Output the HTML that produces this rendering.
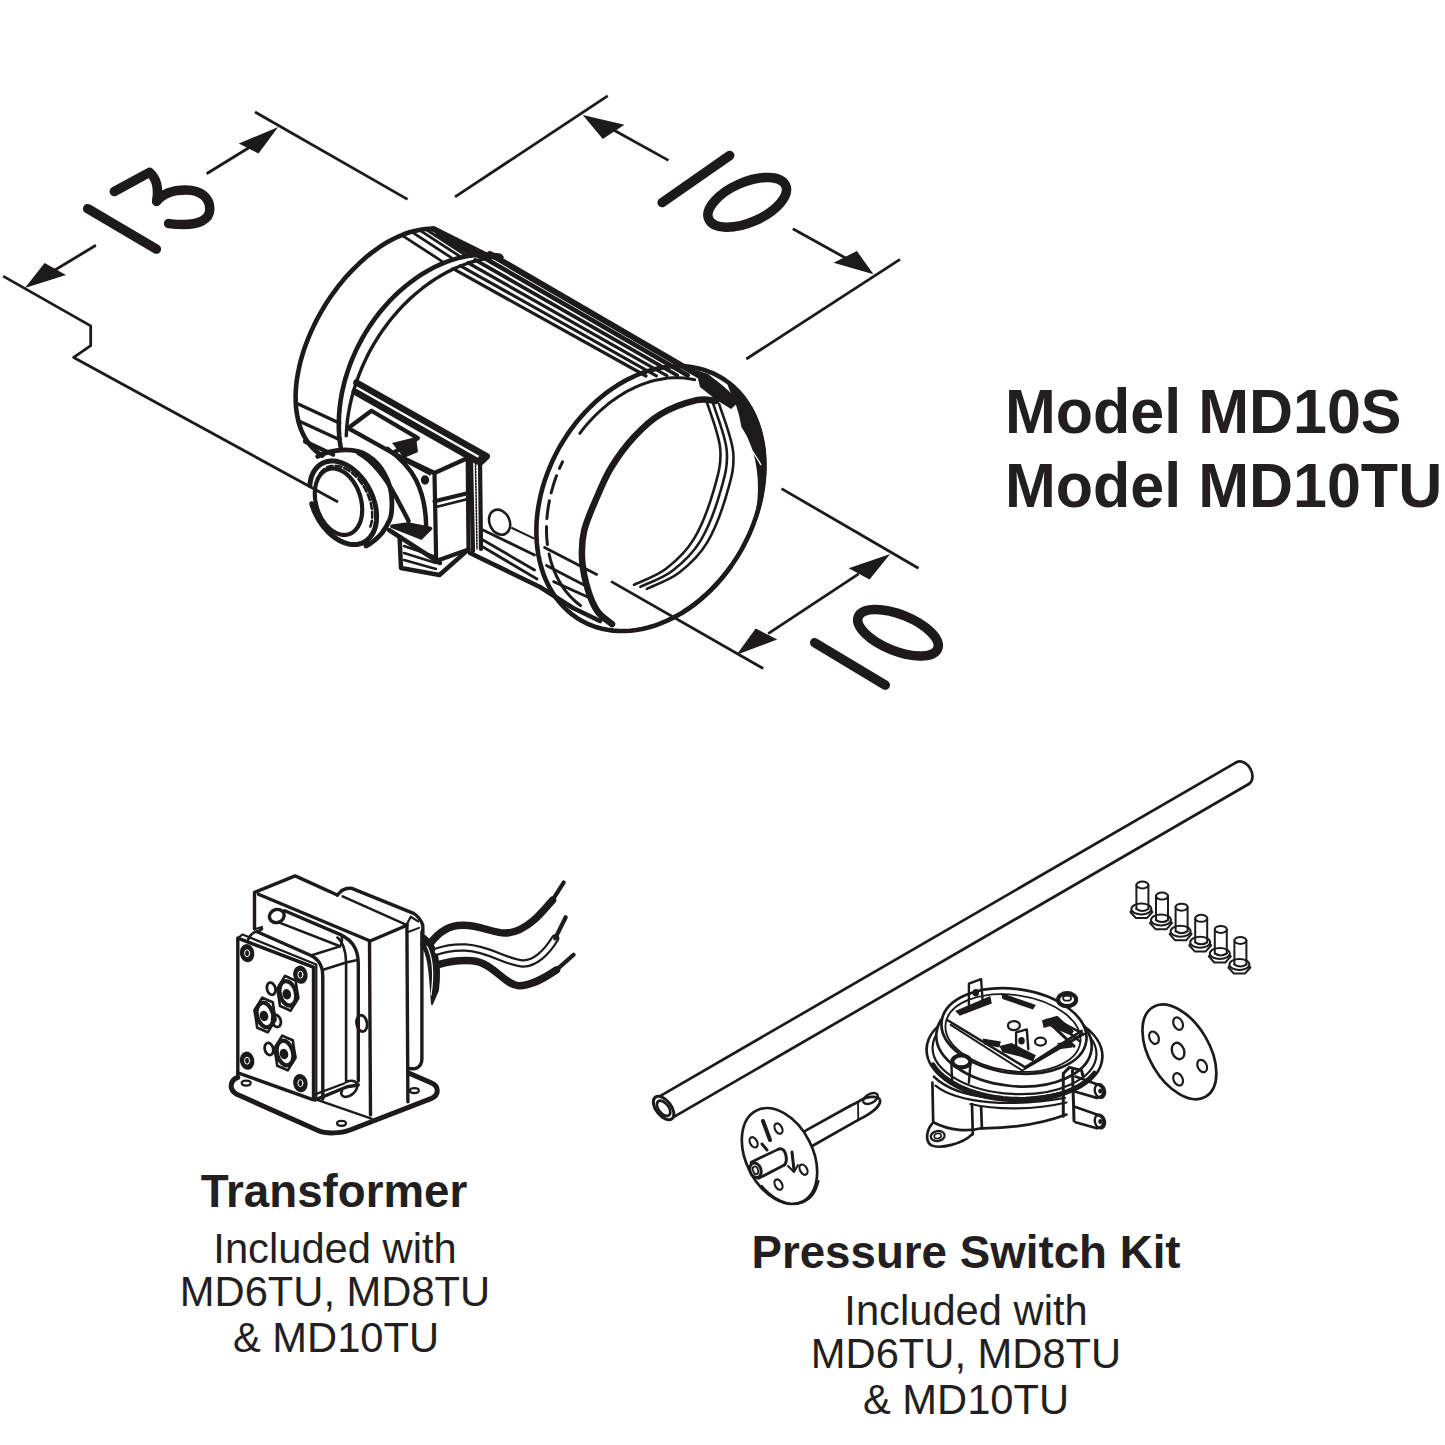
<!DOCTYPE html>
<html><head><meta charset="utf-8">
<style>
html,body{margin:0;padding:0;background:#fff;width:1445px;height:1445px;overflow:hidden}
.t{position:absolute;white-space:nowrap;font-family:"Liberation Sans",sans-serif;color:#231f20;line-height:1}
.b{font-weight:bold}
.c{width:1000px;text-align:center}
svg{position:absolute;left:0;top:0}
</style></head><body>
<svg width="1445" height="1445" viewBox="0 0 1445 1445" fill="none" stroke="#1e1a1b" stroke-linecap="round" stroke-linejoin="round">
<path d="M3.1,276.1 L90.7,325.9 L90.7,345.6 L73.7,357.4 L338.0,502.0" stroke-width="2.80" fill="none" stroke-linecap="butt"/>
<path d="M95.9,245.3 L50.0,273.0" stroke-width="2.80" fill="none" stroke-linecap="butt"/>
<path d="M24.9,287.9 L44.6,263.0 L66.0,275.0Z" fill="#1e1a1b" stroke="none"/>
<path d="M255.0,112.0 L407.6,199.4" stroke-width="2.80" fill="none" stroke-linecap="butt"/>
<path d="M206.6,173.7 L250.0,147.0" stroke-width="2.80" fill="none" stroke-linecap="butt"/>
<path d="M278.2,127.0 L238.8,143.6 L258.5,153.6Z" fill="#1e1a1b" stroke="none"/>
<path d="M87.7,208.7 L156.4,249.1" stroke-width="9.50" fill="none" />
<path d="M114.3,191.5 L149.5,172.3 C156,178 159,188 156.6,201.5 C163,193 172,190 186,190 C201,190 210,198 209.8,209.5 C209.5,220 198,224.5 184,224.5 C177,224.5 172,224 168.6,223.6" stroke-width="9.50" fill="none" />
<path d="M607.7,95.9 L455.0,196.9" stroke-width="2.80" fill="none" stroke-linecap="butt"/>
<path d="M668.5,160.4 L610.0,128.0" stroke-width="2.80" fill="none" stroke-linecap="butt"/>
<path d="M582.8,114.9 L624.4,124.8 L602.8,139.1Z" fill="#1e1a1b" stroke="none"/>
<path d="M662.1,202.6 L729.7,155.5" stroke-width="9.50" fill="none" />
<ellipse cx="747.2" cy="202.3" rx="42" ry="20" transform="rotate(-23.7 747.2 202.3)" stroke-width="9.50" fill="none"/>
<path d="M792.8,228.8 L860.0,266.0" stroke-width="2.80" fill="none" stroke-linecap="butt"/>
<path d="M873.5,274.3 L833.6,262.7 L856.9,251.1Z" fill="#1e1a1b" stroke="none"/>
<path d="M900.0,259.4 L746.3,359.0" stroke-width="2.80" fill="none" stroke-linecap="butt"/>
<path d="M781.5,488.6 L918.5,568.3" stroke-width="2.80" fill="none" stroke-linecap="butt"/>
<path d="M890.2,553.9 L848.7,568.3 L869.5,579.6Z" fill="#1e1a1b" stroke="none"/>
<path d="M858.7,573.8 L768.2,633.6" stroke-width="2.80" fill="none" stroke-linecap="butt"/>
<path d="M736.6,654.7 L755.7,628.6 L777.3,639.4Z" fill="#1e1a1b" stroke="none"/>
<path d="M611.0,581.4 L763.2,668.5" stroke-width="2.80" fill="none" stroke-linecap="butt"/>
<path d="M814.7,642.7 L885.3,685.1" stroke-width="9.50" fill="none" />
<ellipse cx="898" cy="632.7" rx="42.8" ry="18.2" transform="rotate(22 898 632.7)" stroke-width="9.50" fill="none"/>
<path d="M432.7,228.8 L428.3,228.8 L423.8,229.2 L419.2,229.9 L414.5,230.9 L409.7,232.2 L404.9,233.8 L400.1,235.8 L395.2,238.0 L390.3,240.5 L385.4,243.3 L380.5,246.4 L375.6,249.8 L370.8,253.4 L366.0,257.3 L361.3,261.4 L356.7,265.8 L352.1,270.4 L347.7,275.1 L343.3,280.1 L339.1,285.2 L335.1,290.6 L331.1,296.0 L327.4,301.6 L323.8,307.3 L320.4,313.2 L317.1,319.1 L314.1,325.1 L311.3,331.1 L308.7,337.2 L306.3,343.3 L304.1,349.4 L302.2,355.5 L300.5,361.5 L299.1,367.6 L297.9,373.5 L296.9,379.4 L296.2,385.2 L295.8,390.9 L295.6,396.4 L295.7,401.9 L296.0,407.1 L296.6,412.2 L297.5,417.1 L298.5,421.8 L299.9,426.4 L301.5,430.6 L303.3,434.7 L305.4,438.5 L307.7,442.0 L310.2,445.3 L312.9,448.3 L315.9,451.1 L319.0,453.5 L322.3,455.6" stroke-width="4.60" fill="none" />
<path d="M432.7,228.8 L488.0,256.0" stroke-width="5.60" fill="none" />
<path d="M434.0,226.0 L488.0,253.5 L484.0,260.0 L468.0,255.0 L436.0,236.0Z" fill="#1e1a1b" stroke="none"/>
<path d="M401.7,235.1 L441.7,261.1" stroke-width="2.80" fill="none" />
<path d="M411.3,231.7 L451.3,257.7" stroke-width="2.80" fill="none" />
<path d="M419.2,229.9 L459.2,255.9" stroke-width="2.80" fill="none" />
<path d="M425.3,229.0 L465.3,255.0" stroke-width="2.80" fill="none" />
<path d="M500.0,255.8 L494.3,255.0 L488.4,254.6 L482.5,254.5 L476.5,254.9 L470.4,255.6 L464.3,256.7 L458.2,258.1 L452.1,259.9 L445.9,262.1 L439.8,264.6 L433.8,267.5 L427.8,270.7 L421.9,274.2 L416.1,278.1 L410.4,282.3 L404.8,286.7 L399.3,291.4 L394.0,296.5 L388.9,301.7 L384.0,307.2 L379.2,313.0 L374.7,318.9 L370.4,325.1 L366.3,331.4 L362.5,337.9 L358.9,344.6 L355.6,351.3 L352.6,358.2 L349.8,365.2 L347.4,372.2 L345.2,379.3 L343.4,386.4 L341.8,393.5 L340.6,400.6 L339.7,407.7 L339.1,414.7 L338.8,421.7 L338.8,428.6 L339.2,435.4 L339.9,442.1 L340.9,448.6" stroke-width="4.60" fill="none" />
<path d="M502.1,257.0 L495.5,257.3 L488.8,258.1 L482.0,259.4 L475.2,261.0 L468.4,263.0 L461.7,265.5 L454.9,268.3 L448.2,271.6 L441.6,275.2 L435.1,279.1 L428.7,283.5 L422.4,288.2 L416.2,293.2 L410.2,298.5 L404.4,304.2 L398.8,310.1 L393.4,316.3 L388.2,322.7 L383.3,329.4 L378.6,336.3 L374.2,343.4 L370.1,350.6 L366.3,358.1 L362.8,365.6 L359.6,373.3 L356.7,381.0 L354.2,388.8 L352.0,396.7 L350.1,404.6 L348.6,412.5 L347.4,420.3 L346.7,428.1 L346.2,435.9" stroke-width="3.40" fill="none" />
<path d="M453.0,268.7 L646.0,376.0" stroke-width="3.20" fill="none" />
<path d="M460.4,265.8 L656.4,375.8" stroke-width="3.20" fill="none" />
<path d="M467.8,262.8 L666.8,375.6" stroke-width="3.30" fill="none" />
<path d="M475.2,259.9 L677.2,375.4" stroke-width="3.80" fill="none" />
<path d="M482.6,256.9 L687.6,375.2" stroke-width="4.60" fill="none" />
<path d="M490.0,254.0 L698.0,375.0" stroke-width="6.00" fill="none" />
<path d="M741.4,549.9 L737.6,556.2 L733.7,562.3 L729.5,568.3 L725.1,574.1 L720.4,579.7 L715.6,585.1 L710.6,590.2 L705.5,595.1 L700.2,599.7 L694.8,604.1 L689.2,608.1 L683.5,611.9 L677.8,615.3 L671.9,618.4 L666.0,621.2 L660.1,623.7 L654.2,625.8 L648.2,627.5 L642.2,629.0 L636.3,630.0 L630.4,630.7 L624.5,631.0 L618.7,631.0 L613.1,630.6 L607.5,629.8 L602.0,628.7 L596.7,627.3 L591.5,625.4 L586.4,623.3 L581.6,620.7 L576.9,617.9 L572.4,614.7 L568.2,611.2 L564.2,607.4 L560.4,603.3 L556.8,598.9 L553.6,594.3 L550.5,589.3 L547.8,584.2 L545.3,578.8 L543.1,573.1 L541.3,567.3 L539.7,561.3 L538.4,555.1 L537.4,548.7 L536.8,542.2 L536.4,535.6 L536.4,528.9 L536.6,522.1 L537.2,515.3 L538.1,508.4 L539.3,501.5 L540.8,494.5 L542.6,487.6 L544.7,480.7 L547.1,473.9 L549.8,467.1 L552.7,460.4 L556.0,453.8 L559.4,447.3 L563.2,441.0 L567.1,434.9 L571.3,428.9 L575.7,423.1 L580.4,417.5 L585.2,412.1 L590.2,407.0 L595.3,402.1 L600.6,397.5 L606.0,393.1 L611.6,389.1 L617.3,385.3 L623.0,381.9 L628.9,378.8 L634.8,376.0 L640.7,373.5 L646.6,371.4 L652.6,369.7 L658.6,368.2 L664.5,367.2 L670.4,366.5 L676.3,366.2 L682.1,366.2 L687.7,366.6 L693.3,367.4 L698.8,368.5 L704.1,369.9 L709.3,371.8 L714.4,373.9 L719.2,376.5 L723.9,379.3 L728.4,382.5 L732.6,386.0 L736.6,389.8 L740.4,393.9 L744.0,398.3 L747.2,402.9 L750.3,407.9 L753.0,413.0 L755.5,418.4 L757.7,424.1 L759.5,429.9 L761.1,435.9 L762.4,442.1 L763.4,448.5 L764.0,455.0 L764.4,461.6 L764.4,468.3 L764.2,475.1 L763.6,481.9 L762.7,488.8 L761.5,495.7 L760.0,502.7 L758.2,509.6 L756.1,516.5 L753.7,523.3 L751.0,530.1 L748.1,536.8 L744.8,543.4 L741.4,549.9" stroke-width="4.60" fill="none" />
<path d="M547.4,544.5 L546.8,538.4 L546.5,532.2 L546.5,525.9 L546.8,519.6 L547.4,513.2 L548.3,506.7 L549.5,500.2 L550.9,493.7 L552.7,487.3 L554.7,480.8 L557.0,474.4 L559.6,468.1 L562.5,461.9" stroke-width="3.00" fill="none" stroke-dasharray="18 8"/>
<path d="M580.6,605.6 L576.4,602.3 L572.5,598.7 L568.8,594.8 L565.3,590.6 L562.2,586.1 L559.3,581.4 L556.6,576.3 L554.3,571.1 L552.2,565.6 L550.5,559.9 L549.1,554.0" stroke-width="3.00" fill="none" />
<path d="M716.0,401.0 C712.8,400.9 705.9,398.0 696.6,400.2 C687.4,402.4 670.9,408.1 660.5,414.2 C650.1,420.3 642.2,428.2 634.0,437.0 C625.8,445.8 617.7,457.0 611.5,467.0 C605.3,477.0 601.5,486.4 597.0,497.0 C592.5,507.6 586.7,520.0 584.2,530.6 C581.7,541.2 581.5,550.7 582.2,560.7 C582.9,570.7 585.6,582.2 588.2,590.8 C590.8,599.3 594.0,606.5 598.0,612.0 C602.0,617.5 609.7,622.0 612.0,624.0" stroke-width="6.50" fill="none" />
<path d="M706.2,400.2 C708.5,408.3 718.9,433.6 720.2,448.4 C721.5,463.1 718.6,473.5 714.2,488.6 C709.9,503.6 702.1,525.3 694.1,538.6 C686.1,552.0 676.0,561.0 666.0,568.8 C656.0,576.5 639.2,582.2 633.9,584.8" stroke-width="2.60" fill="none" />
<path d="M712.7,402.2 C715.0,410.2 725.4,435.6 726.7,450.3 C728.0,465.0 725.1,475.4 720.7,490.5 C716.4,505.6 708.6,527.2 700.6,540.6 C692.6,554.0 682.5,563.0 672.5,570.7 C662.5,578.4 645.8,584.1 640.4,586.8" stroke-width="2.60" fill="none" />
<path d="M719.2,404.1 C721.5,412.2 731.9,437.5 733.2,452.2 C734.5,467.0 731.6,477.4 727.2,492.4 C722.9,507.5 715.1,529.2 707.1,542.6 C699.1,555.9 689.0,565.0 679.0,572.7 C669.0,580.4 652.2,586.1 646.9,588.8" stroke-width="2.60" fill="none" />
<path d="M730.9,566.4 L726.4,572.4 L721.7,578.3 L716.7,583.9 L711.6,589.3 L706.3,594.4 L700.8,599.2 L695.2,603.7 L689.4,608.0 L683.5,611.9" stroke-width="4.50" fill="none" />
<path d="M729.5,380.9 L732.4,383.2 L735.2,385.7 L738.0,388.3 L740.6,391.0 L743.1,393.9 L745.4,396.9 L747.7,400.0 L749.8,403.3 L751.9,406.7 L753.8,410.1 L755.6,413.7 L757.2,417.4 L758.7,421.2 L760.1,425.1 L761.4,429.1 L762.5,433.1 L763.5,437.3 L764.3,441.5 L765.0,445.8 L765.6,450.1 L766.0,454.5 L766.3,459.0 L766.4,463.5 L766.4,468.0 L766.3,472.6 L766.0,477.2 L765.6,481.9 L765.0,486.6 L764.3,491.2 L763.5,495.9 L762.5,500.6 L761.4,505.3 L760.1,510.0 L758.7,514.7 L757.2,519.3 L753.9,518.4 L755.3,513.8 L756.2,509.2 L756.9,504.6 L757.4,500.0 L757.7,495.4 L757.9,490.9 L757.9,486.4 L757.8,482.0 L757.6,477.6 L757.2,473.4 L756.7,469.2 L756.0,465.1 L755.3,461.0 L754.4,457.1 L753.4,453.3 L752.2,449.6 L751.0,446.0 L749.6,442.5 L748.1,439.1 L746.6,435.8 L744.9,432.7 L743.1,429.7 L741.3,426.8 L740.7,423.2 L740.0,419.6 L739.2,416.1 L738.3,412.5 L737.2,409.0 L736.1,405.5 L734.8,402.1 L733.4,398.6 L731.9,395.2 L730.3,391.7 L728.7,388.1 L727.5,383.7Z" fill="#1e1a1b" stroke="none"/>
<path d="M725.9,414.7 C735,424 741,432 744.6,439.7 C750,448 756,456 760.8,464.6" stroke-width="1.30" fill="none" stroke="#fff"/>
<path d="M696.0,370.0 L708.0,374.0 L722.0,385.0 L740.0,401.0 L731.0,409.0 L715.0,399.0 L700.0,387.0Z" fill="#1e1a1b" stroke="none"/>
<path d="M579.8,433.3 L584.0,427.9 L588.4,422.7 L593.0,417.8 L597.8,413.0 L602.7,408.6 L607.7,404.3 L612.9,400.4 L618.2,396.7 L623.5,393.4 L629.0,390.3 L634.5,387.6 L640.1,385.2 L645.7,383.1 L651.3,381.3 L656.9,379.9 L662.5,378.9 L668.0,378.1 L673.5,377.8 L678.9,377.8 L684.3,378.1 L689.5,378.8 L694.7,379.8" stroke-width="3.00" fill="none" />
<path d="M470.0,553.0 L540.0,587.0 L573.0,608.0 L600.0,621.0" stroke-width="4.60" fill="none" />
<path d="M483.0,530.0 L534.5,555.0" stroke-width="2.80" fill="none" />
<path d="M483.0,540.0 L534.5,570.0" stroke-width="2.80" fill="none" />
<path d="M483.0,547.0 L537.0,579.0" stroke-width="2.80" fill="none" />
<path d="M544.6,547.4 L596.7,574.4" stroke-width="2.80" fill="none" />
<path d="M546.4,565.4 L584.0,585.0" stroke-width="2.80" fill="none" />
<path d="M553.6,581.6 L590.0,598.0" stroke-width="2.80" fill="none" />
<ellipse cx="499.6" cy="522.2" rx="10" ry="13" transform="rotate(-25 499.6 522.2)" stroke-width="2.60" fill="none"/>
<path d="M512.0,528.0 L533.8,538.4" stroke-width="2.00" fill="none" />
<path d="M471.0,460.0 L473.0,551.0" stroke-width="4.20" fill="none" />
<path d="M480.0,458.0 L481.0,549.0" stroke-width="4.20" fill="none" />
<path d="M475.5,462.0 L477.0,549.0" stroke-width="1.68" fill="none" stroke-dasharray="1.5 1.5"/>
<path d="M356.4,382.5 L486.8,456.4 L481.0,462.0" stroke-width="6.44" fill="none" />
<path d="M354.8,391.6 L477.7,461.4" stroke-width="6.44" fill="none" />
<path d="M296.6,403.3 L339.8,423.2" stroke-width="3.36" fill="none" />
<path d="M300.0,421.5 L339.8,439.8" stroke-width="3.36" fill="none" />
<path d="M305.0,441.5 L333.2,454.7" stroke-width="4.20" fill="none" />
<path d="M348.1,428.2 L371.4,410.7 L417.9,438.1 L393.0,453.1 L348.1,428.2" stroke-width="4.20" fill="none" />
<path d="M392.0,443.0 L416.0,437.0 L418.0,452.0 L404.0,458.0Z" fill="#1e1a1b" stroke="none"/>
<path d="M434.5,473.0 L467.7,458.0 L468.5,549.4 L436.2,561.0 L434.5,473.0" stroke-width="4.20" fill="none" />
<path d="M434.5,501.2 L468.5,493.0" stroke-width="4.20" fill="none" />
<path d="M436.0,507.0 L468.0,499.0" stroke-width="2.80" fill="none" />
<path d="M393.0,453.1 L434.5,473.0" stroke-width="4.20" fill="none" />
<path d="M403.0,459.7 L430.0,474.0" stroke-width="2.80" fill="none" />
<ellipse cx="425" cy="480" rx="3.5" ry="4" transform="rotate(0 425 480)" stroke-width="1.40" fill="#1e1a1b"/>
<path d="M387.4,448.8 C400,458 411,470 416,480 C422,492 426,510 426.2,527" stroke-width="4.48" fill="none" />
<path d="M358.7,453.2 C372,460 386,478 396.3,497.5 C401,507 406,515 408.5,521" stroke-width="4.48" fill="none" />
<path d="M391.9,526.3 L408,524 L430.6,528.5 L421,538 Z" stroke-width="3.50" fill="#1e1a1b" />
<path d="M389.0,530.0 L440.0,563.0" stroke-width="4.48" fill="none" />
<path d="M399.6,537.0 L401.0,568.0 L439.5,575.0 L468.5,549.4" stroke-width="4.48" fill="none" />
<path d="M404.0,546.0 L436.0,557.0" stroke-width="2.52" fill="none" />
<path d="M404.0,553.0 L436.0,563.0" stroke-width="2.52" fill="none" />
<path d="M404.0,560.0 L436.0,569.0" stroke-width="2.52" fill="none" />
<path d="M317.7,456.5 C328,451 337,449.9 345.4,449.9 C356,450 362,452 367.5,455.4 C376,461 381,467 384.1,473.2 C390,483 392,492 391.9,503 C392,512 391,517 389.7,519.7 C387,526 385,529 382,533 C377,539 372,543 366,546" stroke-width="4.76" fill="none" />
<path d="M309.8,485.4 L310.0,483.5 L310.3,481.6 L310.7,479.7 L311.1,477.9 L311.7,476.2 L312.4,474.5 L313.1,473.0 L313.9,471.5 L314.8,470.1 L315.8,468.7 L316.9,467.5 L318.0,466.4 L319.2,465.4 L320.4,464.4 L321.8,463.6 L323.2,462.9 L324.6,462.3 L326.1,461.8 L327.6,461.5 L329.2,461.2 L330.8,461.1 L332.5,461.0 L334.2,461.1 L335.9,461.3 L337.6,461.6 L339.3,462.1 L341.1,462.6 L342.8,463.3 L344.6,464.0 L346.4,464.9 L348.1,465.9 L349.8,466.9 L351.5,468.1 L353.2,469.4 L354.9,470.8 L356.5,472.2 L358.1,473.7 L359.7,475.4 L361.2,477.0 L362.6,478.8 L364.0,480.6 L365.4,482.5 L366.7,484.5 L367.9,486.5 L369.0,488.5 L370.1,490.6 L371.1,492.7 L372.0,494.8 L372.9,497.0 L373.6,499.2 L374.3,501.4 L374.9,503.6 L375.4,505.7 L375.8,507.9 L376.2,510.1 L376.4,512.2 L376.5,514.4 L376.6,516.5 L376.5,518.5 L376.4,520.5 L376.2,522.5 L375.9,524.4 L375.5,526.2 L375.0,528.0 L374.4,529.7 L373.7,531.4 L373.0,532.9 L372.1,534.4 L371.2,535.8 L370.2,537.1 L369.1,538.3 L368.0,539.4 L366.8,540.4 L365.5,541.3 L364.2,542.1 L362.8,542.8 L361.3,543.4 L359.8,543.8 L358.3,544.2 L356.7,544.4 L355.1,544.5 L353.4,544.5 L351.7,544.4 L350.0,544.2 L348.3,543.9 L346.6,543.4 L344.8,542.9 L343.0,542.2 L341.3,541.4 L339.5,540.5 L337.8,539.5 L336.1,538.4 L334.4,537.3 L332.7,536.0 L331.0,534.6 L329.4,533.1 L327.8,531.6 L326.3,530.0 L324.8,528.2 L323.3,526.5 L321.9,524.6 L320.6,522.7 L319.3,520.8 L318.1,518.8 L317.0,516.7 L315.9,514.6 L314.9,512.5 L314.0,510.4 L313.2,508.2 L312.4,506.0 L311.8,503.8" stroke-width="5.04" fill="none" />
<path d="M320.2,473.3 L321.1,472.2 L322.0,471.1 L323.0,470.1 L324.0,469.3 L325.1,468.5 L326.2,467.8 L327.4,467.2 L328.6,466.7 L329.9,466.3 L331.2,466.0 L332.6,465.9 L334.0,465.8 L335.4,465.8 L336.8,465.9 L338.3,466.1 L339.7,466.5 L341.2,466.9 L342.7,467.4 L344.2,468.1 L345.7,468.8 L347.2,469.6 L348.7,470.5 L350.1,471.5 L351.6,472.6 L353.0,473.8 L354.4,475.0 L355.8,476.4 L357.1,477.8 L358.4,479.2 L359.7,480.8 L360.9,482.4 L362.1,484.0 L363.2,485.7 L364.3,487.5 L365.3,489.3 L366.3,491.1 L367.1,493.0 L368.0,494.9 L368.7,496.8 L369.4,498.7 L370.0,500.6 L370.6,502.6 L371.0,504.5 L371.4,506.5 L371.7,508.4 L372.0,510.3 L372.1,512.2 L372.2,514.1 L372.2,515.9 L372.1,517.7 L372.0,519.4 L371.8,521.1 L371.4,522.8 L371.0,524.4 L370.6,525.9 L370.0,527.4" stroke-width="2.52" fill="none" stroke-dasharray="6 3"/>
<path d="M359.9,495.0 L360.4,496.7 L360.8,498.4 L361.2,500.1 L361.5,501.9 L361.8,503.6 L362.0,505.3 L362.1,507.1 L362.2,508.8 L362.2,510.5 L362.1,512.1 L362.0,513.8 L361.8,515.4 L361.6,516.9 L361.2,518.5 L360.9,519.9 L360.4,521.4 L359.9,522.7 L359.4,524.1 L358.7,525.3 L358.1,526.5 L357.3,527.6 L356.6,528.7 L355.7,529.6 L354.9,530.5 L353.9,531.4 L353.0,532.1 L352.0,532.8 L350.9,533.3 L349.9,533.8 L348.8,534.2 L347.6,534.5 L346.5,534.7 L345.3,534.9 L344.1,534.9 L342.9,534.9 L341.7,534.7 L340.4,534.5 L339.2,534.1 L337.9,533.7 L336.7,533.2 L335.5,532.6 L334.2,532.0 L333.0,531.2 L331.8,530.4 L330.6,529.5 L329.5,528.5 L328.4,527.4 L327.2,526.3 L326.2,525.1 L325.1,523.8 L324.1,522.5 L323.2,521.1 L322.2,519.6 L321.4,518.2 L320.5,516.6 L319.7,515.1 L319.0,513.4 L318.3,511.8 L317.7,510.1 L317.1,508.4 L316.6,506.7 L316.2,505.0 L315.8,503.3 L315.5,501.5 L315.2,499.8 L315.0,498.1 L314.9,496.3 L314.8,494.6 L314.8,492.9 L314.9,491.3 L315.0,489.6 L315.2,488.0 L315.4,486.5 L315.8,484.9 L316.1,483.5 L316.6,482.0 L317.1,480.7 L317.6,479.3 L318.3,478.1 L318.9,476.9 L319.7,475.8 L320.4,474.7 L321.3,473.8 L322.1,472.9 L323.1,472.0 L324.0,471.3 L325.0,470.6 L326.1,470.1 L327.1,469.6 L328.2,469.2 L329.4,468.9 L330.5,468.7 L331.7,468.5 L332.9,468.5 L334.1,468.5 L335.3,468.7 L336.6,468.9 L337.8,469.3 L339.1,469.7 L340.3,470.2 L341.5,470.8 L342.8,471.4 L344.0,472.2 L345.2,473.0 L346.4,473.9 L347.5,474.9 L348.6,476.0 L349.8,477.1 L350.8,478.3 L351.9,479.6 L352.9,480.9 L353.8,482.3 L354.8,483.8 L355.6,485.2 L356.5,486.8 L357.3,488.3 L358.0,490.0 L358.7,491.6 L359.3,493.3 L359.9,495.0" stroke-width="4.20" fill="none" />
<path d="M254.5,929.0 L254.5,892.4 L295.2,875.9 L337.3,895.0" stroke-width="3.40" fill="none" />
<path d="M258.4,894.3 L370.2,941.0 L407.0,925.2" stroke-width="3.40" fill="none" />
<path d="M369.5,941.0 L370.5,1114.9" stroke-width="3.40" fill="none" />
<path d="M406.9,924.2 L407.9,1101.8" stroke-width="3.40" fill="none" />
<path d="M337.3,895 L340,892.4 C343,889 347,888 351.8,888.4 L413.6,913.4 C418,916 421,920 422.8,925.2 L423,940" stroke-width="3.40" fill="none" />
<path d="M342.6,896.3 L407.0,925.2" stroke-width="2.40" fill="none" />
<path d="M406.9,924.2 L410.7,916.7 L418.1,921.4" stroke-width="2.20" fill="none" />
<path d="M421.9,931.7 L421.9,1058.8 C421.9,1068.1 414.4,1070.0 407.9,1068.1" stroke-width="3.40" fill="none" />
<path d="M408.8,931.7 L419.1,927.9" stroke-width="2.00" fill="none" />
<ellipse cx="276.8" cy="916" rx="7.5" ry="6.5" transform="rotate(-20 276.8 916)" stroke-width="3.40" fill="none"/>
<path d="M284.7,910.8 L339.9,934.4 C347,937.5 352,942 355,948 C357.5,953 358.3,958 358.3,964 L358.3,1081" stroke-width="3.40" fill="none" />
<path d="M279.4,922.6 L340,946.3" stroke-width="2.60" fill="none" />
<path d="M257.1,931.8 L311,955.5 C316,958 320,962 321.8,968 C322.6,971 322.8,975 322.8,980 L322.8,1099" stroke-width="3.40" fill="none" />
<path d="M311,955.5 L340,946.3 C342,944 342.5,940 341.5,935.5" stroke-width="2.40" fill="none" />
<path d="M248,940 C250,935 253,932 257.1,931.8 L262,929" stroke-width="2.60" fill="none" />
<path d="M254.5,929.2 L262.0,927.0" stroke-width="2.20" fill="none" />
<path d="M315.3,1099.9 L347.1,1086.8 L358.3,1085.0" stroke-width="3.40" fill="none" />
<path d="M337.4,937.5 C342,941 346,950 346.1,962 L346.1,1082 C350,1080.5 355,1080 357.3,1084 C358,1092 350,1097 344.8,1097 C341,1096 340.5,1093 342,1091" stroke-width="2.60" fill="none" />
<path d="M315.0,1094.4 L344.8,1083.2" stroke-width="2.20" fill="none" />
<path d="M322.4,969.9 L346.1,962.4 L357.5,960.0" stroke-width="2.60" fill="none" />
<path d="M237.8,938.2 L313.5,967.2 L313.5,1099.9 L237.8,1072.8 L237.8,938.2" stroke-width="3.40" fill="none" />
<path d="M237.8,938.2 L242.4,934.5 L316.3,964.4 L316.3,1099.0" stroke-width="2.20" fill="none" />
<path d="M244.3,941.0 L311.6,967.2" stroke-width="1.80" fill="none" />
<ellipse cx="247.1" cy="953.2" rx="5.5" ry="7.5" transform="rotate(-10 247.1 953.2)" stroke-width="3.40" fill="#1e1a1b"/>
<ellipse cx="247.1" cy="953.2" rx="2.5" ry="3.5" stroke="#fff" stroke-width="1" fill="none"/>
<ellipse cx="300.4" cy="974.7" rx="5.5" ry="7.5" transform="rotate(-10 300.4 974.7)" stroke-width="3.40" fill="#1e1a1b"/>
<ellipse cx="300.4" cy="974.7" rx="2.5" ry="3.5" stroke="#fff" stroke-width="1" fill="none"/>
<ellipse cx="247.1" cy="1060.7" rx="5.5" ry="7.5" transform="rotate(-10 247.1 1060.7)" stroke-width="3.40" fill="#1e1a1b"/>
<ellipse cx="247.1" cy="1060.7" rx="2.5" ry="3.5" stroke="#fff" stroke-width="1" fill="none"/>
<ellipse cx="300.4" cy="1083.1" rx="5.5" ry="7.5" transform="rotate(-10 300.4 1083.1)" stroke-width="3.40" fill="#1e1a1b"/>
<ellipse cx="300.4" cy="1083.1" rx="2.5" ry="3.5" stroke="#fff" stroke-width="1" fill="none"/>
<ellipse cx="271.2" cy="988.7" rx="4.2" ry="6.2" transform="rotate(-15 271.2 988.7)" stroke-width="2.80" fill="#fff"/>
<path d="M298.4,998.0 L294.5,1004.2 L290.6,1010.7 L285.4,1008.3 L280.0,1006.0 L278.7,997.3 L277.2,988.6 L281.1,982.4 L285.0,975.9 L290.2,978.3 L295.6,980.6 L296.9,989.3Z" stroke-width="2.60" fill="none" />
<ellipse cx="287.8" cy="993.3" rx="8" ry="12.5" transform="rotate(-15 287.8 993.3)" stroke-width="4.20" fill="none"/>
<ellipse cx="286.8" cy="994.3" rx="3" ry="4" transform="rotate(-15 286.8 994.3)" stroke-width="2.50" fill="#1e1a1b"/>
<ellipse cx="276.5" cy="1021" rx="4.2" ry="6.2" transform="rotate(-15 276.5 1021)" stroke-width="2.80" fill="#fff"/>
<path d="M275.6,1019.7 L271.7,1025.9 L267.8,1032.4 L262.6,1030.0 L257.2,1027.7 L255.9,1019.0 L254.4,1010.3 L258.3,1004.1 L262.2,997.6 L267.4,1000.0 L272.8,1002.3 L274.1,1011.0Z" stroke-width="2.60" fill="none" />
<ellipse cx="265" cy="1015" rx="8" ry="12.5" transform="rotate(-15 265 1015)" stroke-width="4.20" fill="none"/>
<ellipse cx="264" cy="1016" rx="3" ry="4" transform="rotate(-15 264 1016)" stroke-width="2.50" fill="#1e1a1b"/>
<ellipse cx="269" cy="1049" rx="4.2" ry="6.2" transform="rotate(-15 269 1049)" stroke-width="2.80" fill="#fff"/>
<path d="M295.6,1057.7 L291.7,1063.9 L287.8,1070.4 L282.6,1068.0 L277.2,1065.7 L275.9,1057.0 L274.4,1048.3 L278.3,1042.1 L282.2,1035.6 L287.4,1038.0 L292.8,1040.3 L294.1,1049.0Z" stroke-width="2.60" fill="none" />
<ellipse cx="285" cy="1053" rx="8" ry="12.5" transform="rotate(-15 285 1053)" stroke-width="4.20" fill="none"/>
<ellipse cx="284" cy="1054" rx="3" ry="4" transform="rotate(-15 284 1054)" stroke-width="2.50" fill="#1e1a1b"/>
<ellipse cx="361.8" cy="1023.4" rx="5.2" ry="8.2" transform="rotate(-10 361.8 1023.4)" stroke-width="2.80" fill="none"/>
<path d="M237.8,1077.5 C231.2,1079.3 227.5,1088.7 236.8,1094.3 L318,1130.5 C326,1134 341,1133.5 350,1130 L431.6,1098.4 C438.7,1095.2 439.6,1086.8 431.6,1083.1 L409.2,1073.2" stroke-width="5.00" fill="none" />
<path d="M237.8,1077.5 L237.8,1072.8" stroke-width="3.40" fill="none" />
<path d="M317.2,1099.9 L371.4,1118.6" stroke-width="2.40" fill="none" />
<ellipse cx="246.2" cy="1083.1" rx="4.5" ry="2.5" transform="rotate(0 246.2 1083.1)" stroke-width="2.20" fill="none"/>
<ellipse cx="414.4" cy="1090.6" rx="4.5" ry="2.5" transform="rotate(0 414.4 1090.6)" stroke-width="2.20" fill="none"/>
<ellipse cx="341.5" cy="1123.3" rx="4.5" ry="2.5" transform="rotate(0 341.5 1123.3)" stroke-width="2.20" fill="none"/>
<path d="M425,936 C437,945 441,965 438,990 L432,1004 C430,980 430,955 421,944 Z" stroke-width="2.00" fill="#1e1a1b" />
<path d="M427,946 C433,958 434,975 431,995" stroke-width="1.20" fill="none" stroke="#fff"/>
<path d="M430.2,943.6 C440,930 452,925 463.1,925.2 C480,925 492,933 505.2,933.1 C517,933 527,926 534,920 C542,913 548,905 552.5,900.2" stroke-width="7.50" fill="none" />
<path d="M552.5,900.2 L563.7,882.5" stroke-width="4.20" fill="none" />
<path d="M436.8,951.5 C447,948 456,947 465.7,947.6 C490,949 505,962 522.3,963.4 C535,964 547,952 555.2,938.4" stroke-width="8.50" fill="none" />
<path d="M436.8,951.5 C447,948 456,947 465.7,947.6 C490,949 505,962 522.3,963.4 C535,964 547,952 555.2,938.4" stroke-width="4.00" fill="none" stroke="#fff"/>
<path d="M555.2,938.4 L565.7,917.3" stroke-width="4.20" fill="none" />
<path d="M438.1,964.7 C450,961 462,960 472.3,960.7 C492,962 505,985 518.3,985.7 C532,986 546,977 556.5,969.9" stroke-width="7.50" fill="none" />
<path d="M556.5,969.9 L573.6,954.8" stroke-width="4.20" fill="none" />
<path d="M657.4,1097.6 L1236.2,762.4" stroke-width="2.70" fill="none" />
<path d="M670.0,1119.2 L1248.8,784.0" stroke-width="2.70" fill="none" />
<path d="M1236.2,762.4 A12.5,9 60 0 1 1248.8,784.0" stroke-width="2.70" fill="none" />
<ellipse cx="663.6" cy="1108" rx="13.6" ry="7.6" transform="rotate(52 663.6 1108)" stroke-width="3.00" fill="#fff"/>
<ellipse cx="663.6" cy="1108.3" rx="8.8" ry="5" transform="rotate(52 663.6 1108.3)" stroke-width="2.70" fill="none"/>
<ellipse cx="779.5" cy="1156" rx="51" ry="33.3" transform="rotate(62.9 779.5 1156)" stroke-width="2.70" fill="#fff"/>
<path d="M818.4,1181.0 L817.9,1183.2 L817.3,1185.2 L816.6,1187.2 L815.9,1189.1 L815.0,1190.9 L814.0,1192.6 L813.0,1194.2 L811.8,1195.7 L810.6,1197.0 L809.3,1198.3 L807.9,1199.4 L806.4,1200.4 L804.9,1201.3 L803.3,1202.1 L801.6,1202.7 L799.9,1203.2 L798.1,1203.6 L796.3,1203.8 L794.4,1203.9 L792.5,1203.8 L790.6,1203.6 L788.6,1203.3 L786.6,1202.9 L784.6,1202.3 L782.6,1201.5 L780.6,1200.7 L778.6,1199.7 L776.6,1198.6 L774.6,1197.4 L772.7,1196.1 L770.7,1194.6 L768.8,1193.0 L766.9,1191.4 L765.1,1189.6 L763.3,1187.7 L761.6,1185.8" stroke-width="2.20" fill="none" />
<path d="M804.7,1131.1 L849.5,1106.2" stroke-width="2.70" fill="none" />
<path d="M812.2,1146.0 L858.3,1119.9" stroke-width="2.70" fill="none" />
<path d="M849.5,1106.2 L858,1102 C866,1096 878,1095 880,1100 C881,1104 876,1111 858.3,1119.9" stroke-width="2.70" fill="none" />
<path d="M858.0,1102.0 L858.3,1119.9" stroke-width="1.80" fill="none" />
<ellipse cx="870.5" cy="1098.5" rx="8" ry="4.5" transform="rotate(-28 870.5 1098.5)" stroke-width="2.40" fill="none"/>
<path d="M751.1,1162.2 L778.5,1149.1" stroke-width="2.70" fill="none" />
<path d="M758.6,1178.4 L784.8,1164.7" stroke-width="2.70" fill="none" />
<path d="M778.5,1149.1 C786,1147 788,1160 784.8,1164.7" stroke-width="3.00" fill="none" />
<ellipse cx="755.5" cy="1170.3" rx="5.5" ry="7.5" transform="rotate(-20 755.5 1170.3)" stroke-width="3.00" fill="#fff"/>
<ellipse cx="755.5" cy="1170.3" rx="2.5" ry="4" transform="rotate(-20 755.5 1170.3)" stroke-width="1.80" fill="none"/>
<ellipse cx="753.6" cy="1142.3" rx="3.5" ry="5.5" transform="rotate(-28 753.6 1142.3)" stroke-width="2.20" fill="none"/>
<ellipse cx="778.5" cy="1128.6" rx="3.5" ry="5.5" transform="rotate(-28 778.5 1128.6)" stroke-width="2.20" fill="none"/>
<ellipse cx="803.5" cy="1169.7" rx="3.5" ry="5.5" transform="rotate(-28 803.5 1169.7)" stroke-width="2.20" fill="none"/>
<ellipse cx="778.5" cy="1184.6" rx="3.5" ry="5.5" transform="rotate(-28 778.5 1184.6)" stroke-width="2.20" fill="none"/>
<path d="M763.0,1121.0 L770.0,1140.0" stroke-width="4.00" fill="none" />
<path d="M762.0,1144.0 L767.0,1150.0" stroke-width="3.00" fill="none" />
<path d="M792.0,1152.0 L794.0,1170.0" stroke-width="3.00" fill="none" />
<path d="M788,1166 L794,1172 L798,1165" stroke-width="2.00" fill="none" />
<path d="M932.4,1082.7 L933.2,1122.3 C950.7,1131.4 968.9,1131.4 981.1,1128.3 L982.6,1128.3 C1011.6,1128.3 1042.0,1123.8 1066.4,1114.6" stroke-width="2.70" fill="none" />
<path d="M972.0,1104.0 L972.8,1134.4" stroke-width="2.70" fill="none" />
<path d="M981.1,1107.0 L981.9,1128.3" stroke-width="2.70" fill="none" />
<path d="M935.5,1085.7 C958.3,1104.0 1011.6,1107.0 1064.9,1097.9" stroke-width="2.20" fill="none" />
<path d="M933.9,1076.6 C958.3,1100.9 1019.2,1104.0 1066.4,1091.8" stroke-width="2.60" fill="none" />
<path d="M970.5,1104.0 C996.4,1110.1 1034.4,1110.1 1066.4,1102.5" stroke-width="2.20" fill="none" />
<path d="M933.2,1122.3 C926.3,1129.9 924.8,1140.5 930.9,1145.1 C940.0,1149.7 962.9,1143.6 972.0,1134.4" stroke-width="2.70" fill="none" />
<ellipse cx="937.7" cy="1136.0" rx="7" ry="5" transform="rotate(-10 937.7 1136.0)" stroke-width="2.20" fill="none"/>
<ellipse cx="937.7" cy="1136.0" rx="3.5" ry="2.5" transform="rotate(-10 937.7 1136.0)" stroke-width="1.60" fill="none"/>
<ellipse cx="1014.5" cy="1053" rx="88" ry="48" transform="rotate(3 1014.5 1053)" stroke-width="2.70" fill="none"/>
<ellipse cx="1014.5" cy="1051" rx="82" ry="43" transform="rotate(3 1014.5 1051)" stroke-width="2.20" fill="none"/>
<ellipse cx="1014" cy="1041" rx="78" ry="45" transform="rotate(6 1014 1041)" stroke-width="2.70" fill="#fff"/>
<path d="M1094.4,1072.9 L1092.6,1075.1 L1090.6,1077.2 L1088.3,1079.3 L1085.9,1081.3 L1083.3,1083.2 L1080.4,1085.0 L1077.4,1086.7 L1074.2,1088.3 L1070.9,1089.9 L1067.3,1091.3 L1063.7,1092.6 L1059.9,1093.8 L1055.9,1094.9 L1051.9,1095.9 L1047.7,1096.7 L1043.5,1097.4 L1039.1,1098.0 L1034.7,1098.5 L1030.3,1098.9 L1025.8,1099.1 L1021.2,1099.2 L1016.7,1099.1 L1012.1,1098.9 L1007.5,1098.6 L1003.0,1098.2 L998.5,1097.6 L994.0,1097.0 L989.6,1096.1 L985.3,1095.2 L981.1,1094.2 L976.9,1093.0 L972.9,1091.7 L968.9,1090.3 L965.1,1088.8 L961.5,1087.2 L957.9,1085.5 L954.6,1083.8 L951.4,1081.9 L948.4,1079.9 L945.6,1077.9 L942.9,1075.8 L940.5,1073.7 L938.3,1071.4 L936.3,1069.2 L934.5,1066.8 L933.0,1064.5" stroke-width="4.50" fill="none" />
<ellipse cx="1014" cy="1031" rx="73" ry="42" transform="rotate(8 1014 1031)" stroke-width="2.70" fill="#fff"/>
<ellipse cx="1013" cy="1033" rx="68" ry="38" transform="rotate(8 1013 1033)" stroke-width="1.80" fill="none"/>
<path d="M947.6,1020.2 L1025.3,1067.4 L1081.6,1030.9" stroke-width="2.50" fill="none" />
<path d="M950.7,1024.8 L1022.2,1070.5 L1084.7,1033.9" stroke-width="2.00" fill="none" />
<path d="M955.2,1011.1 L990.3,995.9 L991.8,1003.5 L959.8,1015.7Z" fill="#1e1a1b" stroke="none"/>
<path d="M1000.9,992.8 L1035.9,1005.0 L1032.9,1009.6 L1002.4,998.9Z" fill="#1e1a1b" stroke="none"/>
<path d="M1042.0,1020.2 L1057.3,1015.7 L1074.0,1030.9 L1071.0,1035.5 L1049.6,1026.3 L1043.6,1027.9Z" fill="#1e1a1b" stroke="none"/>
<path d="M999.4,1046.1 L1011.6,1043.1 L1035.9,1055.3 L1032.9,1061.4 L1020.7,1056.8 L1002.4,1052.2Z" fill="#1e1a1b" stroke="none"/>
<path d="M1057.3,1043.1 L1071.0,1041.6 L1072.5,1047.6 L1058.8,1049.2Z" fill="#1e1a1b" stroke="none"/>
<path d="M982.6,1038.5 L1000.9,1041.6 L999.4,1047.6 L984.2,1044.6Z" fill="#1e1a1b" stroke="none"/>
<path d="M1046.6,1020.2 L1074.0,1046.1" stroke-width="3.00" fill="none" />
<path d="M1025.3,1067.4 L1083.1,1033.9 L1063.3,1023.3" stroke-width="2.40" fill="none" />
<path d="M1052.7,1018.7 L1080.1,1041.6" stroke-width="2.50" fill="none" />
<path d="M968.9,1005.0 L968.9,983.7 L981.1,979.1 L982.6,1000.5" stroke-width="2.40" fill="none" />
<ellipse cx="975.8" cy="992.8" rx="2.5" ry="3" transform="rotate(0 975.8 992.8)" stroke-width="1.50" fill="#1e1a1b"/>
<path d="M1016.1,1052.2 L1016.1,1032.4 L1026.8,1029.4 L1028.3,1049.2" stroke-width="2.40" fill="none" />
<ellipse cx="1021.5" cy="1040.8" rx="2.5" ry="3" transform="rotate(0 1021.5 1040.8)" stroke-width="1.50" fill="#1e1a1b"/>
<ellipse cx="1013.9" cy="1025.6" rx="6" ry="4.5" transform="rotate(0 1013.9 1025.6)" stroke-width="2.20" fill="none"/>
<ellipse cx="1040.5" cy="1041.6" rx="5.5" ry="4" transform="rotate(0 1040.5 1041.6)" stroke-width="2.20" fill="none"/>
<ellipse cx="1067.1" cy="999.7" rx="9" ry="6.5" transform="rotate(0 1067.1 999.7)" stroke-width="4.20" fill="#fff"/>
<ellipse cx="1067.1" cy="998.2" rx="4" ry="2.5" transform="rotate(0 1067.1 998.2)" stroke-width="1.80" fill="none"/>
<path d="M951.4,1064.4 L952.2,1082.7" stroke-width="2.40" fill="none" />
<path d="M970.5,1062.9 L968.9,1082.7" stroke-width="2.40" fill="none" />
<ellipse cx="961.3" cy="1061.4" rx="9" ry="6" transform="rotate(0 961.3 1061.4)" stroke-width="4.20" fill="#fff"/>
<path d="M1063.3,1073.5 L1063.3,1116.2" stroke-width="3.00" fill="none" />
<path d="M1072.5,1070.5 L1074.0,1120.7" stroke-width="3.00" fill="none" />
<path d="M1075.5,1076.6 L1096.8,1084.2 C1106.0,1087.2 1106.0,1096.4 1096.8,1097.9 L1075.5,1091.8" stroke-width="2.70" fill="none" />
<ellipse cx="1099.9" cy="1091.0" rx="5" ry="7" transform="rotate(-15 1099.9 1091.0)" stroke-width="2.40" fill="none"/>
<ellipse cx="1100.3" cy="1091.0" rx="1.5" ry="2" transform="rotate(0 1100.3 1091.0)" stroke-width="1.20" fill="#1e1a1b"/>
<path d="M1075.5,1107.0 L1096.8,1114.6 C1106.0,1117.7 1106.0,1126.8 1096.8,1128.3 L1075.5,1122.3" stroke-width="2.70" fill="none" />
<ellipse cx="1099.9" cy="1121.5" rx="5" ry="7" transform="rotate(-15 1099.9 1121.5)" stroke-width="2.40" fill="none"/>
<ellipse cx="1100.3" cy="1121.5" rx="1.5" ry="2" transform="rotate(0 1100.3 1121.5)" stroke-width="1.20" fill="#1e1a1b"/>
<path d="M1063.3,1073.5 L1069.4,1067.4 L1081.6,1070.5 L1083.1,1076.6" stroke-width="3.00" fill="none" />
<ellipse cx="1179.4" cy="1051.9" rx="52" ry="30" transform="rotate(59.5 1179.4 1051.9)" stroke-width="2.70" fill="none"/>
<ellipse cx="1178.1" cy="1051" rx="6" ry="8.5" transform="rotate(-20 1178.1 1051)" stroke-width="2.40" fill="none"/>
<ellipse cx="1178.1" cy="1023.6" rx="4.5" ry="6.5" transform="rotate(-25 1178.1 1023.6)" stroke-width="2.20" fill="none"/>
<ellipse cx="1154" cy="1037.7" rx="4.5" ry="6.5" transform="rotate(-25 1154 1037.7)" stroke-width="2.20" fill="none"/>
<ellipse cx="1202.2" cy="1066" rx="4.5" ry="6.5" transform="rotate(-25 1202.2 1066)" stroke-width="2.20" fill="none"/>
<ellipse cx="1178.1" cy="1079.3" rx="4.5" ry="6.5" transform="rotate(-25 1178.1 1079.3)" stroke-width="2.20" fill="none"/>
<path d="M1152.4,912.0 L1146.9,918.1 L1135.9,918.1 L1130.4,912.0 L1135.9,905.9 L1146.9,905.9Z" stroke-width="2.00" fill="none" fill="#fff"/>
<ellipse cx="1141.4" cy="909.0" rx="10" ry="5.5" transform="rotate(0 1141.4 909.0)" stroke-width="2.00" fill="#fff"/>
<path d="M1136.4,885.0 L1136.4,909.0" stroke-width="2.00" fill="none" />
<path d="M1148.4,885.0 L1148.4,909.0" stroke-width="2.00" fill="none" />
<path d="M1136.4,909.0 Q1142.4,913.0 1148.4,909.0" stroke-width="2.00" fill="none" />
<ellipse cx="1142.4" cy="885.0" rx="6" ry="3.5" transform="rotate(0 1142.4 885.0)" stroke-width="2.00" fill="#fff"/>
<path d="M1172.0,923.1 L1166.5,929.2 L1155.5,929.2 L1150.0,923.1 L1155.5,917.0 L1166.5,917.0Z" stroke-width="2.00" fill="none" fill="#fff"/>
<ellipse cx="1161.0" cy="920.1" rx="10" ry="5.5" transform="rotate(0 1161.0 920.1)" stroke-width="2.00" fill="#fff"/>
<path d="M1156.0,896.1 L1156.0,920.1" stroke-width="2.00" fill="none" />
<path d="M1168.0,896.1 L1168.0,920.1" stroke-width="2.00" fill="none" />
<path d="M1156.0,920.1 Q1162.0,924.1 1168.0,920.1" stroke-width="2.00" fill="none" />
<ellipse cx="1162.0" cy="896.1" rx="6" ry="3.5" transform="rotate(0 1162.0 896.1)" stroke-width="2.00" fill="#fff"/>
<path d="M1191.6,934.2 L1186.1,940.3 L1175.1,940.3 L1169.6,934.2 L1175.1,928.1 L1186.1,928.1Z" stroke-width="2.00" fill="none" fill="#fff"/>
<ellipse cx="1180.6" cy="931.2" rx="10" ry="5.5" transform="rotate(0 1180.6 931.2)" stroke-width="2.00" fill="#fff"/>
<path d="M1175.6,907.2 L1175.6,931.2" stroke-width="2.00" fill="none" />
<path d="M1187.6,907.2 L1187.6,931.2" stroke-width="2.00" fill="none" />
<path d="M1175.6,931.2 Q1181.6,935.2 1187.6,931.2" stroke-width="2.00" fill="none" />
<ellipse cx="1181.6" cy="907.2" rx="6" ry="3.5" transform="rotate(0 1181.6 907.2)" stroke-width="2.00" fill="#fff"/>
<path d="M1211.2,945.3 L1205.7,951.4 L1194.7,951.4 L1189.2,945.3 L1194.7,939.2 L1205.7,939.2Z" stroke-width="2.00" fill="none" fill="#fff"/>
<ellipse cx="1200.2" cy="942.3" rx="10" ry="5.5" transform="rotate(0 1200.2 942.3)" stroke-width="2.00" fill="#fff"/>
<path d="M1195.2,918.3 L1195.2,942.3" stroke-width="2.00" fill="none" />
<path d="M1207.2,918.3 L1207.2,942.3" stroke-width="2.00" fill="none" />
<path d="M1195.2,942.3 Q1201.2,946.3 1207.2,942.3" stroke-width="2.00" fill="none" />
<ellipse cx="1201.2" cy="918.3" rx="6" ry="3.5" transform="rotate(0 1201.2 918.3)" stroke-width="2.00" fill="#fff"/>
<path d="M1230.8,956.4 L1225.3,962.5 L1214.3,962.5 L1208.8,956.4 L1214.3,950.3 L1225.3,950.3Z" stroke-width="2.00" fill="none" fill="#fff"/>
<ellipse cx="1219.8" cy="953.4" rx="10" ry="5.5" transform="rotate(0 1219.8 953.4)" stroke-width="2.00" fill="#fff"/>
<path d="M1214.8,929.4 L1214.8,953.4" stroke-width="2.00" fill="none" />
<path d="M1226.8,929.4 L1226.8,953.4" stroke-width="2.00" fill="none" />
<path d="M1214.8,953.4 Q1220.8,957.4 1226.8,953.4" stroke-width="2.00" fill="none" />
<ellipse cx="1220.8" cy="929.4" rx="6" ry="3.5" transform="rotate(0 1220.8 929.4)" stroke-width="2.00" fill="#fff"/>
<path d="M1250.4,967.5 L1244.9,973.6 L1233.9,973.6 L1228.4,967.5 L1233.9,961.4 L1244.9,961.4Z" stroke-width="2.00" fill="none" fill="#fff"/>
<ellipse cx="1239.4" cy="964.5" rx="10" ry="5.5" transform="rotate(0 1239.4 964.5)" stroke-width="2.00" fill="#fff"/>
<path d="M1234.4,940.5 L1234.4,964.5" stroke-width="2.00" fill="none" />
<path d="M1246.4,940.5 L1246.4,964.5" stroke-width="2.00" fill="none" />
<path d="M1234.4,964.5 Q1240.4,968.5 1246.4,964.5" stroke-width="2.00" fill="none" />
<ellipse cx="1240.4" cy="940.5" rx="6" ry="3.5" transform="rotate(0 1240.4 940.5)" stroke-width="2.00" fill="#fff"/>
</svg>
<div class="t b" style="left:1005px;top:382px;font-size:61px;transform:scaleY(1.047);transform-origin:0 51.6px">Model MD10S</div>
<div class="t b" style="left:1005px;top:456px;font-size:61px;transform:scaleY(1.047);transform-origin:0 51.6px">Model MD10TU</div>
<div class="t b c" style="left:-166px;top:1169px;font-size:45.7px">Transformer</div>
<div class="t c" style="left:-165px;top:1228px;font-size:41.7px">Included with</div>
<div class="t c" style="left:-165px;top:1271px;font-size:41.7px">MD6TU, MD8TU</div>
<div class="t c" style="left:-164px;top:1317px;font-size:41.7px">&amp; MD10TU</div>
<div class="t b c" style="left:466px;top:1230px;font-size:45.7px">Pressure Switch Kit</div>
<div class="t c" style="left:466px;top:1290px;font-size:41.7px">Included with</div>
<div class="t c" style="left:466px;top:1333px;font-size:41.7px">MD6TU, MD8TU</div>
<div class="t c" style="left:466px;top:1379px;font-size:41.7px">&amp; MD10TU</div>
</body></html>
